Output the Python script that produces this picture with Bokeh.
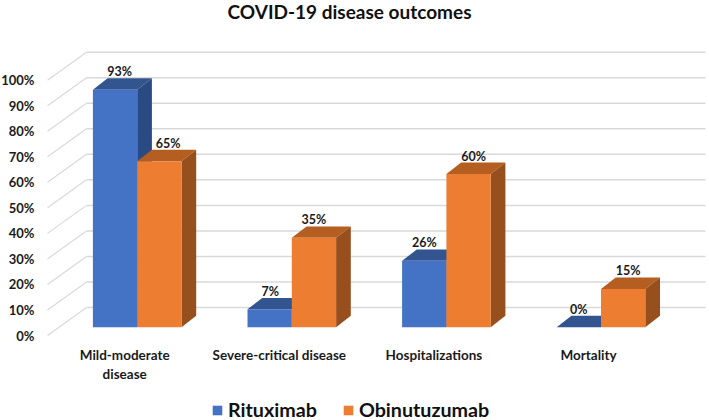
from bokeh.plotting import figure
from bokeh.embed import file_html
from bokeh.resources import INLINE
from bokeh.models import (ColumnDataSource, Range1d, LinearAxis, FixedTicker,
                          Legend, LegendItem, CustomJSTickFormatter)
from bokeh.core.properties import value

categories = ["Mild-moderate\ndisease", "Severe-critical disease", "Hospitalizations", "Mortality"]
rituximab = [93, 7, 26, 0]
obinutuzumab = [65, 35, 60, 15]
series_names = ["Rituximab", "Obinutuzumab"]
tick_values = [0, 10, 20, 30, 40, 50, 60, 70, 80, 90, 100]
title_text = "COVID-19 disease outcomes"

FONT = "Lato"
BLUE, BLUE_TOP, BLUE_SIDE = "#4472C4", "#33558F", "#2A4A84"
ORANGE, ORANGE_TOP, ORANGE_SIDE = "#ED7D31", "#B55E22", "#964F1D"
GRID = "#D9D9D9"

# layout in image pixels
FR_L, FR_R, FR_T, FR_B = 40, 709, 22, 420
G0, GSTEP = 137.7, 154.6      # px of first group centre, px per group
BAR_W = 44.3 / GSTEP
BASE_Y, PX_PCT = 326.7, 2.553  # px of a bar's base, px per percent
DX, DY = 14.7 / GSTEP, 11.4 / PX_PCT   # bar depth
WALL_FRONT = -(335 - BASE_Y) / PX_PCT  # axis plane relative to bar base
WALL_BACK = (BASE_Y - 307) / PX_PCT
WALL_XF = (48 - G0) / GSTEP
WALL_XB = (87 - G0) / GSTEP
WALL_XR = (706 - G0) / GSTEP

x_range = Range1d((FR_L - G0) / GSTEP, (FR_R - G0) / GSTEP)
y_range = Range1d((BASE_Y - FR_B) / PX_PCT, (BASE_Y - FR_T) / PX_PCT)

p = figure(width=711, height=423, output_backend="svg", toolbar_location=None,
           x_range=x_range, y_range=y_range, x_axis_location=None, y_axis_location=None,
           frame_width=FR_R - FR_L, frame_height=FR_B - FR_T,
           min_border_left=0, min_border_right=0, min_border_top=0, min_border_bottom=0,
           outline_line_color=None, background_fill_color=None, border_fill_color="white",
           margin=(-3, 0, 0, -2))
p.grid.visible = False

p.title.text = title_text
p.title.text_font = FONT
p.title.text_font_size = "19px"
p.title.text_font_style = "bold"
p.title.text_color = "#111111"
p.title.align = "left"
p.title.offset = 188
p.title.standoff = 0

# walls
p.multi_line([[WALL_XB, WALL_XR] for t in tick_values],
             [[t + WALL_BACK, t + WALL_BACK] for t in tick_values],
             line_color=GRID, line_width=1.5)
p.multi_line([[WALL_XF, WALL_XB] for t in tick_values],
             [[t + WALL_FRONT, t + WALL_BACK] for t in tick_values],
             line_color=GRID, line_width=1.2)

def draw(vals, left_offset, front, top, side):
    xl = [i + left_offset for i in range(len(vals))]
    xr = [x + BAR_W for x in xl]
    p.patches([[l, r, r + DX, l + DX] for l, r in zip(xl, xr)],
              [[v, v, v + DY, v + DY] for v in vals],
              fill_color=top, line_color=None)
    p.patches([[r, r + DX, r + DX, r] for r in xr],
              [[0, DY, v + DY, v] for v in vals],
              fill_color=side, line_color=None)
    return p.quad(left=xl, right=xr, bottom=[0] * len(vals), top=vals,
                  fill_color=front, line_color=None)

r_blue = draw(rituximab, -BAR_W, BLUE, BLUE_TOP, BLUE_SIDE)
r_orange = draw(obinutuzumab, 0, ORANGE, ORANGE_TOP, ORANGE_SIDE)

# data labels
lab_x = [i - BAR_W / 2 for i in range(4)] + [i + BAR_W / 2 for i in range(4)]
lab_y = rituximab + obinutuzumab
lab_dx = [4.5, 0.5, 0, 0, 8.7, 0, 5, 5]
src = ColumnDataSource(dict(x=lab_x, y=lab_y, t=[f"{v}%" for v in lab_y], dx=lab_dx))
p.text(x="x", y="y", text="t", x_offset="dx", y_offset=-18, source=src,
       text_font=value(FONT), text_font_style="bold", text_font_size="12.5px",
       text_color="#1A1A1A", text_align="center", text_baseline="middle")

# category labels under the bars
cat_src = ColumnDataSource(dict(x=[i - 12.5 / GSTEP for i in range(len(categories))],
                                y=[0] * len(categories), t=categories))
p.text(x="x", y="y", text="t", y_offset=20, source=cat_src,
       text_font=value(FONT), text_font_style="bold", text_font_size="13.5px",
       text_color="#1A1A1A", text_align="center", text_baseline="top", text_line_height=1.15)

# y axis
p.extra_y_ranges["axis"] = Range1d(-(FR_B - 335) / PX_PCT, (335 - FR_T) / PX_PCT)
yax = LinearAxis(y_range_name="axis", ticker=FixedTicker(ticks=tick_values),
                 axis_line_color=None, major_tick_line_color=None, minor_tick_line_color=None,
                 major_tick_out=0, major_tick_in=0, minor_tick_out=0, minor_tick_in=0,
                 major_label_text_font=FONT, major_label_text_font_style="bold",
                 major_label_text_font_size="13px", major_label_text_color="#1A1A1A",
                 major_label_standoff=5)
yax.formatter = CustomJSTickFormatter(code="return tick + '%';")
p.add_layout(yax, "left")

legend = Legend(items=[LegendItem(label=series_names[0], renderers=[r_blue]),
                       LegendItem(label=series_names[1], renderers=[r_orange])],
                orientation="horizontal", location=(172, -1),
                border_line_color=None, background_fill_alpha=0,
                label_text_font=FONT, label_text_font_style="bold",
                label_text_font_size="19.7px", label_text_color="#111111",
                glyph_width=12, glyph_height=12, label_standoff=5, spacing=25,
                margin=0, padding=0)
p.add_layout(legend, "center")

open("out.html", "w").write(file_html(p, INLINE))
